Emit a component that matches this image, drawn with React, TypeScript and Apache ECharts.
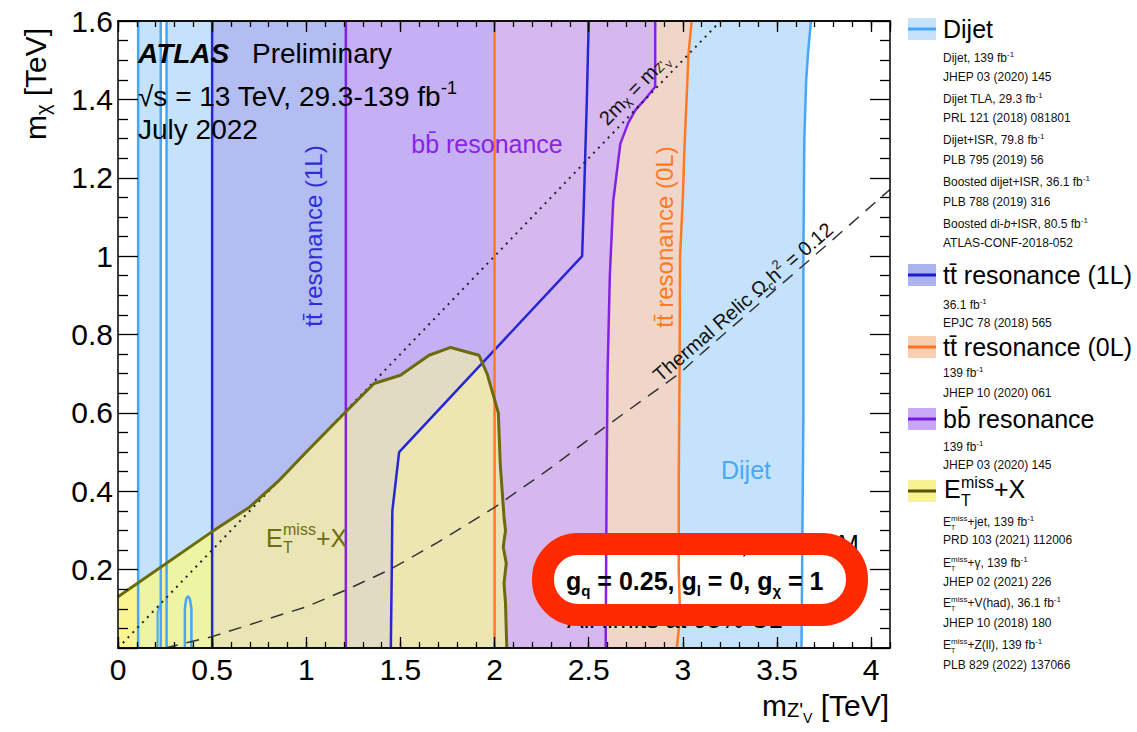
import React, { useEffect, useRef } from "react";
import * as echarts from "echarts";

const FONT = "'Liberation Sans', Arial, Helvetica, sans-serif";

// ---------------- axes ----------------
const X_RANGE = [0, 4.1];
const Y_RANGE = [0, 1.6];
const X_MAJOR = 0.5;
const X_MINOR = 0.1;
const Y_MAJOR = 0.2;

// ---------------- exclusion boundaries [m_Z' TeV, m_chi TeV] ----------------
const dijetLeftX = 0.107;
const dijetGapX = [0.227, 0.258];
const dijetRightEdge = [
  [3.63, 0], [3.635, 0.3], [3.64, 0.6], [3.64, 1.0], [3.645, 1.3],
  [3.655, 1.45], [3.665, 1.52], [3.68, 1.6],
];
const dijetSmallContour = [
  [0.355, 0], [0.355, 0.1], [0.362, 0.125], [0.372, 0.132], [0.382, 0.125], [0.39, 0.1], [0.39, 0],
];
const dijetTinyContour = [[0.21, 0], [0.21, 0.09], [0.222, 0.11]];

const ttbar1LLeftX = 0.5;
const ttbar1LRightEdge = [
  [1.449, 0], [1.454, 0.2], [1.457, 0.35], [1.493, 0.5], [2.465, 1.0],
  [2.475, 1.15], [2.49, 1.4], [2.5, 1.6],
];

const ttbar0LLeftX = 2.0;
const ttbar0LRightEdge = [
  [2.968, 0], [2.985, 0.08], [2.978, 0.2], [2.978, 0.43], [2.982, 0.68], [2.985, 1.0],
  [3.0, 1.15], [3.008, 1.27], [3.03, 1.517], [3.047, 1.6],
];

const bbLeftX = 1.21;
const bbRightEdge = [
  [2.59, 0], [2.595, 0.43], [2.6, 0.7], [2.612, 0.95], [2.63, 1.14], [2.668, 1.287],
  [2.71, 1.34], [2.747, 1.372], [2.809, 1.406], [2.853, 1.432], [2.853, 1.6],
];

const metEdge = [
  [0, 0.131], [0.5, 0.297], [0.7, 0.36], [0.85, 0.425], [1.0, 0.5], [1.21, 0.603],
  [1.36, 0.675], [1.5, 0.696], [1.652, 0.747], [1.767, 0.767], [1.917, 0.747],
  [1.96, 0.7], [1.996, 0.641], [2.02, 0.599], [2.03, 0.47], [2.05, 0.335], [2.058, 0.3],
  [2.046, 0.258], [2.062, 0.216], [2.05, 0.165], [2.058, 0.114], [2.064, 0.012], [2.065, 0],
];

const kinematicLimit = [[0, 0], [3.2, 1.6]]; // 2 m_chi = m_Z'
const thermalRelic = [
  [0.25, 0], [0.5, 0.029], [0.8, 0.075], [1.0, 0.105], [1.21, 0.148], [1.44, 0.199],
  [1.7, 0.27], [2.0, 0.359], [2.3, 0.46], [2.59, 0.565], [2.98, 0.7], [3.1, 0.752],
  [3.61, 0.964], [3.91, 1.09], [4.1, 1.17],
];

// ---------------- legend texts ----------------
const legendTitles = ["Dijet", "tt\u0304 resonance (1L)", "tt\u0304 resonance (0L)", "bb\u0304 resonance", "METX"];
const legendRefs = [
  ["Dijet, 139 fb{s|-1}", "JHEP 03 (2020) 145", "Dijet TLA, 29.3 fb{s|-1}", "PRL 121 (2018) 081801",
    "Dijet+ISR, 79.8 fb{s|-1}", "PLB 795 (2019) 56", "Boosted dijet+ISR, 36.1 fb{s|-1}", "PLB 788 (2019) 316",
    "Boosted di-{i|b}+ISR, 80.5 fb{s|-1}", "ATLAS-CONF-2018-052"],
  ["36.1 fb{s|-1}", "EPJC 78 (2018) 565"],
  ["139 fb{s|-1}", "JHEP 10 (2020) 061"],
  ["139 fb{s|-1}", "JHEP 03 (2020) 145"],
  ["E{s|miss}+jet, 139 fb{s|-1}", "PRD 103 (2021) 112006", "E{s|miss}+\u03b3, 139 fb{s|-1}", "JHEP 02 (2021) 226",
    "E{s|miss}+V(had), 36.1 fb{s|-1}", "JHEP 10 (2018) 180", "E{s|miss}+Z(ll), 139 fb{s|-1}", "PLB 829 (2022) 137066"],
];

// ---------------- styles ----------------
const C = {
  dijetFill: "#c4e2fb", dijetLine: "#47a6f8",
  tt1LFill: "#b3bdf1", tt1LLine: "#2626d6",
  tt0LFill: "#f0d6c8", tt0LLine: "#ff7a22",
  bbFill: "#d6b8ef", bbLeftFill: "#c5b0f6", bbLine: "#8420e8",
  metLine: "#6b6b0c",
};

// ---------------- geometry helpers ----------------
function area(p: number[][]) {
  let s = 0;
  for (let i = 0; i < p.length; i++) {
    const a = p[i], b = p[(i + 1) % p.length];
    s += a[0] * b[1] - b[0] * a[1];
  }
  return s;
}
function clipPolygon(subject: number[][], clip: number[][]) {
  const c = area(clip) < 0 ? clip.slice().reverse() : clip;
  let out = subject.slice();
  for (let i = 0; i < c.length && out.length; i++) {
    const A = c[i], B = c[(i + 1) % c.length];
    const side = (p: number[]) => (B[0] - A[0]) * (p[1] - A[1]) - (B[1] - A[1]) * (p[0] - A[0]);
    const input = out;
    out = [];
    for (let j = 0; j < input.length; j++) {
      const P = input[j], Q = input[(j + 1) % input.length];
      const sp = side(P), sq = side(Q);
      const inter = () => { const t = sp / (sp - sq); return [P[0] + t * (Q[0] - P[0]), P[1] + t * (Q[1] - P[1])]; };
      if (sp >= 0) { out.push(P); if (sq < 0) out.push(inter()); }
      else if (sq >= 0) out.push(inter());
    }
  }
  return out;
}
const strip = (a: number, b: number) => [[a, -1], [b, -1], [b, 3], [a, 3]];
const band = (leftX: number, rightEdge: number[][]) =>
  [[leftX, Y_RANGE[0]], [leftX, Y_RANGE[1]], ...rightEdge.slice().reverse()];
const vline = (x: number) => [[x, Y_RANGE[0]], [x, Y_RANGE[1]]];

function buildLayers() {
  const met = [[0, 0], ...metEdge];
  const rightOfTT = [
    ...ttbar1LRightEdge.filter((p) => p[1] <= 1.0),
    [X_RANGE[1] + 1, 1.0], [X_RANGE[1] + 1, -1], [ttbar1LRightEdge[0][0], -1],
  ];
  return [
    { pts: band(dijetLeftX, dijetRightEdge), fill: C.dijetFill },
    { pts: band(ttbar0LLeftX, ttbar0LRightEdge), fill: C.tt0LFill },
    { pts: band(bbLeftX, bbRightEdge), fill: C.bbFill },
    { pts: clipPolygon(strip(bbLeftX, ttbar0LLeftX), strip(-1, 9)), fill: C.bbLeftFill },
    { pts: strip(ttbar1LLeftX, bbLeftX).map((p) => [p[0], Math.min(Math.max(p[1], Y_RANGE[0]), Y_RANGE[1])]), fill: C.tt1LFill },
    { pts: strip(dijetGapX[0], dijetGapX[1]).map((p) => [p[0], Math.min(Math.max(p[1], Y_RANGE[0]), Y_RANGE[1])]), fill: "#ffffff" },
    { pts: clipPolygon(met, strip(-1, dijetLeftX)), fill: "#fbf493" },
    { pts: clipPolygon(met, strip(dijetLeftX, ttbar1LLeftX)), fill: "#edf4a4" },
    { pts: clipPolygon(met, strip(ttbar1LLeftX, bbLeftX)), fill: "#e9e5b4" },
    { pts: clipPolygon(met, strip(bbLeftX, ttbar0LLeftX)), fill: "#e2dbc3" },
    { pts: clipPolygon(clipPolygon(met, rightOfTT), strip(-1, ttbar0LLeftX)), fill: "#ede5b2" },
    { pts: clipPolygon(met, strip(ttbar0LLeftX, 3)), fill: "#ebe3b5" },
  ];
}

function lineSeries(data: number[][], color: string, width: number, type: any = "solid", z = 3) {
  return {
    type: "line", data, symbol: "none", silent: true, z, animation: false,
    lineStyle: { color, width, type, cap: "butt" },
  };
}

function txt(x: number, y: number, text: string, o: any = {}) {
  return {
    type: "text", x, y, z: o.z ?? 6, rotation: o.rotation ?? 0, silent: true,
    style: {
      text, fontFamily: FONT, fontSize: o.fontSize ?? 12, fontWeight: o.fontWeight ?? "normal",
      fontStyle: o.fontStyle ?? "normal", fill: o.fill ?? "#000",
      align: o.align ?? "left", textAlign: o.align ?? "left",
      verticalAlign: o.va ?? "middle", textVerticalAlign: o.va ?? "middle",
      lineHeight: o.lineHeight, rich: o.rich,
    },
  };
}

function buildGraphics() {
  const g: any[] = [];
  // header
  g.push(txt(138, 53, "ATLAS", { fontSize: 28, fontWeight: "bold", fontStyle: "italic" }));
  g.push(txt(252, 53, "Preliminary", { fontSize: 28 }));
  g.push(txt(138, 96, "\u221as = 13 TeV, 29.3-139 fb{s|-1}", {
    fontSize: 28, lineHeight: 34,
    rich: { s: { fontSize: 18, fontFamily: FONT, fill: "#000", verticalAlign: "top", lineHeight: 18 } },
  }));
  g.push(txt(138, 129, "July 2022", { fontSize: 28 }));

  // axis titles
  g.push(txt(35, 84, "m{sub|\u03c7} [TeV]", {
    fontSize: 30, lineHeight: 36, align: "center", rotation: Math.PI / 2, z: 12,
    rich: { sub: { fontSize: 20, fontFamily: FONT, fill: "#000", verticalAlign: "bottom", lineHeight: 20 } },
  }));
  g.push(txt(889, 705, "m{sub|Z'}{sub2|V} [TeV]", {
    fontSize: 30, lineHeight: 40, align: "right", z: 12,
    rich: {
      sub: { fontSize: 20, fontFamily: FONT, fill: "#000", verticalAlign: "bottom", lineHeight: 20, padding: [0, 0, 5, 0] },
      sub2: { fontSize: 14, fontFamily: FONT, fill: "#000", verticalAlign: "bottom", lineHeight: 14 },
    },
  }));

  // in-plot labels
  g.push(txt(313, 236, "tt\u0304 resonance (1L)", { fontSize: 24, fill: "#2e2ed8", align: "center", rotation: Math.PI / 2 }));
  g.push(txt(487, 144, "bb\u0304 resonance", { fontSize: 25, fill: "#8a22ea", align: "center" }));
  g.push(txt(664, 237, "tt\u0304 resonance (0L)", { fontSize: 24, fill: "#ff7a22", align: "center", rotation: Math.PI / 2 }));
  g.push(txt(746, 470, "Dijet", { fontSize: 25, fill: "#4aa8f8", align: "center" }));
  const olive = "#6e6e10";
  g.push(txt(266, 538, "E", { fontSize: 25, fill: olive }));
  g.push(txt(283, 529, "miss", { fontSize: 16, fill: olive }));
  g.push(txt(283, 547, "T", { fontSize: 16, fill: olive }));
  g.push(txt(316, 538, "+X", { fontSize: 25, fill: olive }));

  g.push(txt(634, 89, "2m{sub|\u03c7} = m{sub|Z'}{sub2|V}", {
    fontSize: 20, lineHeight: 26, align: "center", rotation: (46 * Math.PI) / 180, fill: "#111",
    rich: {
      sub: { fontSize: 13, fontFamily: FONT, fill: "#111", verticalAlign: "bottom", lineHeight: 13, padding: [0, 0, 3, 0] },
      sub2: { fontSize: 9, fontFamily: FONT, fill: "#111", verticalAlign: "bottom", lineHeight: 9 },
    },
  }));
  g.push(txt(743, 302, "Thermal Relic \u03a9{sub|c}h{sup|2} = 0.12", {
    fontSize: 20, lineHeight: 26, align: "center", rotation: (41 * Math.PI) / 180, fill: "#111",
    rich: {
      sub: { fontSize: 13, fontFamily: FONT, fill: "#111", verticalAlign: "bottom", lineHeight: 13 },
      sup: { fontSize: 13, fontFamily: FONT, fill: "#111", verticalAlign: "top", lineHeight: 13 },
    },
  }));

  // model text box
  g.push({ type: "rect", z: 2, silent: true, shape: { x: 543, y: 544, width: 314, height: 71, r: 35 }, style: { fill: "#ffffff" } });
  g.push(txt(567, 544, "Vector mediator, Dirac DM", { fontSize: 25 }));
  const bsub = { fontSize: 15, fontFamily: FONT, fontWeight: "bold", fill: "#000", verticalAlign: "bottom", lineHeight: 15 };
  g.push(txt(566, 581, "g{s|q} = 0.25, g{s|l} = 0, g{s|\u03c7} = 1", {
    fontSize: 25, fontWeight: "bold", lineHeight: 34, rich: { s: bsub },
  }));
  g.push(txt(567, 619, "All limits at 95% CL", { fontSize: 25 }));
  g.push({
    type: "rect", z: 30, silent: true, shape: { x: 543, y: 544, width: 314, height: 71, r: 35 },
    style: { fill: "none", stroke: "#ff2a00", lineWidth: 22 },
  });

  // legend
  const swatches = [
    { fill: C.dijetFill, line: C.dijetLine },
    { fill: "#aab3ee", line: "#1a1ad0" },
    { fill: "#f9cdb0", line: "#ff7020" },
    { fill: "#c8a8f6", line: "#7818e0" },
    { fill: "#f8f294", line: "#555500" },
  ];
  const titleY = [29, 275, 347, 419, 491];
  const refsY = [
    [58, 77, 99, 118, 140, 160, 182, 202, 224, 243],
    [305, 323], [373, 393], [447, 465],
    [522, 540, 563, 582, 603, 623, 645, 665],
  ];
  const smallRich = {
    s: { fontSize: 8, fontFamily: FONT, fill: "#111", verticalAlign: "top", lineHeight: 8 },
    i: { fontSize: 12, fontFamily: FONT, fill: "#111", fontStyle: "italic", lineHeight: 15 },
  };
  legendTitles.forEach((t, k) => {
    const y = titleY[k];
    g.push({ type: "rect", z: 5, silent: true, shape: { x: 908, y: y - 11, width: 28, height: 22 }, style: { fill: swatches[k].fill } });
    g.push({ type: "line", z: 6, silent: true, shape: { x1: 908, y1: y, x2: 936, y2: y }, style: { stroke: swatches[k].line, lineWidth: 3 } });
    if (t === "METX") {
      g.push(txt(944, y - 2, "E", { fontSize: 25 }));
      g.push(txt(961, y - 9, "miss", { fontSize: 16 }));
      g.push(txt(961, y + 9, "T", { fontSize: 16 }));
      g.push(txt(994, y - 2, "+X", { fontSize: 25 }));
    } else {
      g.push(txt(943, y, t, { fontSize: 25 }));
    }
    legendRefs[k].forEach((r, j) => {
      const ry = refsY[k][j];
      g.push(txt(943, ry, r, { fontSize: 12, fill: "#111", lineHeight: 15, rich: smallRich }));
      if (r.startsWith("E{s|miss}")) g.push(txt(951, ry + 5, "T", { fontSize: 7, fill: "#111" }));
    });
  });
  return g;
}

function buildOption() {
  const layers = buildLayers();
  const axisLine = { show: true, onZero: false, lineStyle: { color: "#000", width: 1.5 } };
  const tickStyle = { color: "#000", width: 1.3 };
  const xAxisDef = (position: string, interval: number, len: number, labels: boolean) => ({
    type: "value", position, min: X_RANGE[0], max: X_RANGE[1], interval, z: 10, silent: true,
    axisLine, splitLine: { show: false },
    axisTick: { show: true, inside: true, length: len, lineStyle: tickStyle },
    axisLabel: labels
      ? { show: true, fontSize: 30, fontFamily: FONT, color: "#000", margin: 6, showMaxLabel: false }
      : { show: false },
  });
  const yAxisDef = (position: string, labels: boolean) => ({
    type: "value", position, min: Y_RANGE[0], max: Y_RANGE[1], interval: Y_MAJOR, z: 10, silent: true,
    axisLine, splitLine: { show: false },
    axisTick: { show: true, inside: true, length: 20, lineStyle: tickStyle },
    minorTick: { show: true, splitNumber: 4, length: 10, lineStyle: tickStyle },
    axisLabel: labels
      ? { show: true, fontSize: 30, fontFamily: FONT, color: "#000", margin: 5, showMinLabel: false }
      : { show: false },
  });

  const series: any[] = [
    {
      type: "custom", coordinateSystem: "cartesian2d", z: 1, silent: true, clip: true,
      data: layers.map((_, i) => [i]),
      renderItem: (params: any, api: any) => {
        const L = layers[params.dataIndex];
        return {
          type: "polygon",
          shape: { points: L.pts.map((p) => api.coord(p)) },
          style: { fill: L.fill, stroke: L.fill, lineWidth: 0.8 },
        };
      },
    },
    // dijet lines
    lineSeries(vline(dijetLeftX), C.dijetLine, 2.5),
    lineSeries(vline(dijetGapX[0]), C.dijetLine, 2.5),
    lineSeries(vline(dijetGapX[1]), C.dijetLine, 2.5),
    lineSeries(dijetRightEdge, C.dijetLine, 2.5),
    lineSeries(dijetSmallContour, C.dijetLine, 2.5),
    lineSeries(dijetTinyContour, C.dijetLine, 2),
    // ttbar 1L
    lineSeries(vline(ttbar1LLeftX), C.tt1LLine, 2.5),
    lineSeries(ttbar1LRightEdge, C.tt1LLine, 2.5),
    // bb
    lineSeries(vline(bbLeftX), C.bbLine, 2.5),
    lineSeries(bbRightEdge, C.bbLine, 2.5),
    // ttbar 0L
    lineSeries(vline(ttbar0LLeftX), C.tt0LLine, 2.5),
    lineSeries(ttbar0LRightEdge, C.tt0LLine, 2.5),
    // reference lines
    lineSeries(kinematicLimit, "#222", 2, [2, 5], 4),
    lineSeries(thermalRelic, "#333", 1.5, [13, 9], 4),
    // MET
    lineSeries(metEdge, C.metLine, 3, "solid", 4),
  ];

  return {
    animation: false,
    backgroundColor: "#ffffff",
    grid: { left: 118, top: 21, right: 247, bottom: 84, containLabel: false },
    xAxis: [
      xAxisDef("bottom", X_MAJOR, 11, true),
      xAxisDef("top", X_MAJOR, 11, false),
      xAxisDef("bottom", X_MINOR, 6, false),
      xAxisDef("top", X_MINOR, 6, false),
    ],
    yAxis: [yAxisDef("left", true), yAxisDef("right", false)],
    series,
    graphic: { elements: buildGraphics() },
  };
}

export default function App() {
  const ref = useRef<HTMLDivElement>(null);
  useEffect(() => {
    const chart = echarts.init(ref.current!, undefined, { renderer: "svg" });
    chart.setOption(buildOption() as any);
    return () => chart.dispose();
  }, []);
  return <div ref={ref} style={{ position: "absolute", left: 0, top: 0, width: 1137, height: 732 }} />;
}
